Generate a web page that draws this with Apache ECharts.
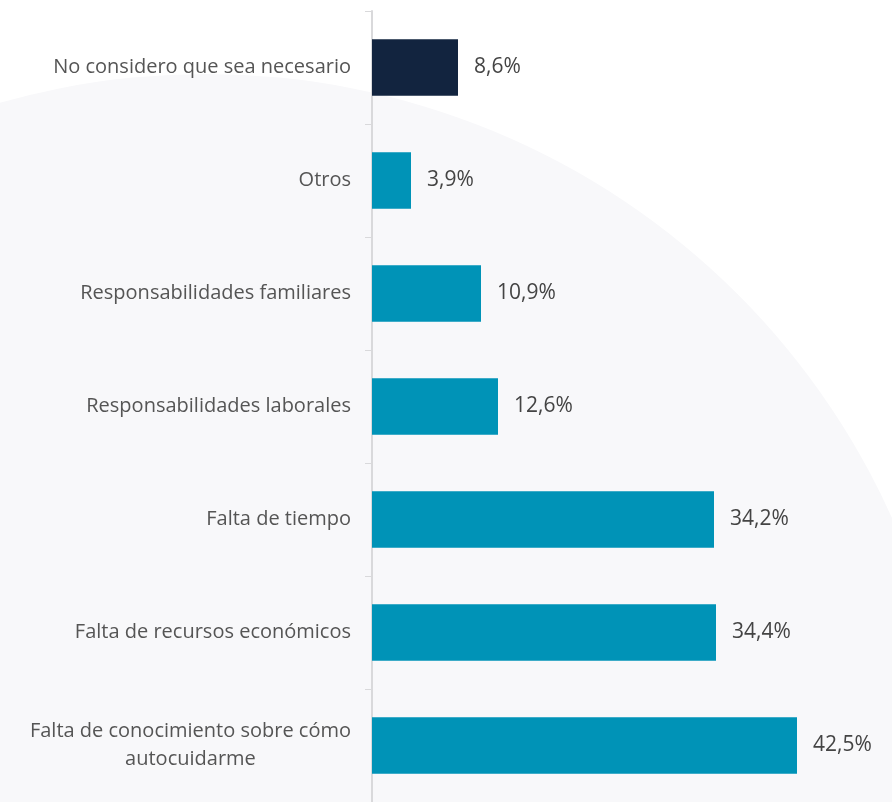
<!DOCTYPE html>
<html>
<head>
<meta charset="utf-8">
<script src="https://cdn.jsdelivr.net/npm/echarts@6/dist/echarts.min.js"></script>
<style>
html,body{margin:0;padding:0;background:#fff;}
#report{width:892px;height:802px;}
</style>
</head>
<body>
<div id="report"></div>
<script>
var categories = [
	'No considero que sea necesario',
	'Otros',
	'Responsabilidades familiares',
	'Responsabilidades laborales',
	'Falta de tiempo',
	'Falta de recursos económicos',
	'Falta de conocimiento sobre cómo autocuidarme'
];
var values = [8.6, 3.9, 10.9, 12.6, 34.2, 34.4, 42.5];
var barColors = ['#12243f', '#0093b7', '#0093b7', '#0093b7', '#0093b7', '#0093b7', '#0093b7'];

var fontName = '"Open Sans", sans-serif';
var myChart = echarts.init(document.getElementById('report'));

var seriesData = [];
for (var i = 0; i < values.length; i++) {
	seriesData.push({value: values[i], itemStyle: {color: barColors[i]}});
}

var option = {
	backgroundColor: '#ffffff',
	animation: false,
	// fondo: circulo gris claro
	graphic: [{
		type: 'circle',
		z: -10,
		shape: {cx: 206, cy: 826, r: 752},
		style: {fill: '#f8f8fa'}
	}],
	grid: {
		left: 372,
		right: 0,
		top: 11,
		bottom: 0
	},
	xAxis: {
		type: 'value',
		min: 0,
		max: 52,
		show: false
	},
	yAxis: {
		type: 'category',
		inverse: true,
		data: categories,
		axisLine: {show: true, lineStyle: {color: '#d9d9db', width: 2}},
		axisTick: {show: true, length: 7, lineStyle: {color: '#d9d9db', width: 1}},
		axisLabel: {
			margin: 21,
			color: '#555555',
			fontSize: 20,
			fontFamily: fontName,
			lineHeight: 28,
			formatter: function (value) {
				if (value.length > 32) {
					var cut = value.lastIndexOf(' ');
					return '{c|' + value.substr(0, cut) + '}\n{c|' + value.substr(cut + 1) + '}';
				}
				return value;
			},
			rich: {
				c: {
					align: 'center',
					color: '#555555',
					fontSize: 20,
					fontFamily: fontName,
					lineHeight: 28
				}
			}
		}
	},
	series: [{
		type: 'bar',
		data: seriesData,
		barWidth: '50%',
		label: {
			show: true,
			position: 'right',
			distance: 16,
			color: '#444444',
			fontSize: 21,
			fontFamily: fontName,
			formatter: function (p) {
				return p.value.toFixed(1).replace('.', ',') + '%';
			}
		}
	}]
};

myChart.setOption(option);
</script>
</body>
</html>
